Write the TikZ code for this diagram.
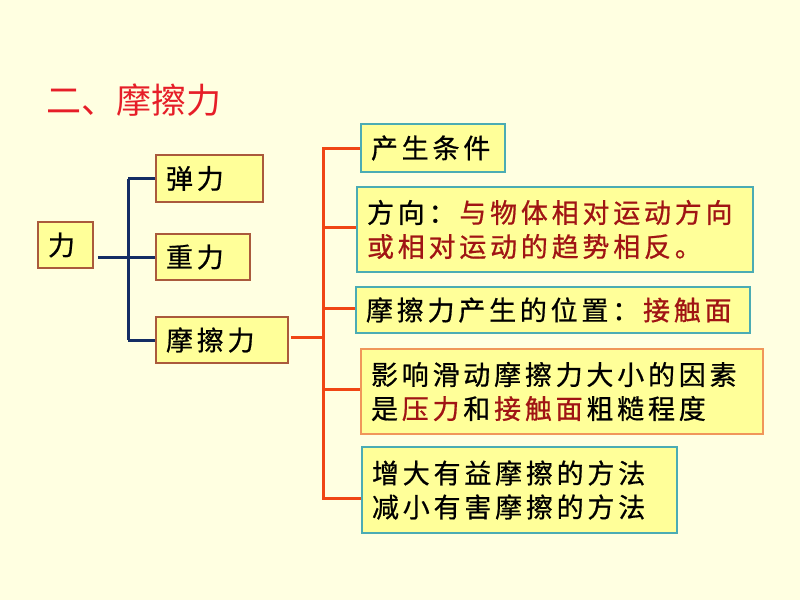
\documentclass[tikz,border=0pt]{standalone}
\usepackage{fontspec}
\usetikzlibrary{calc}
\newfontfamily\cjk[LetterSpace=14,FakeBold=0.7]{Noto Sans CJK SC}
\newfontfamily\cjktitle{Noto Sans CJK SC}
\definecolor{bgc}{RGB}{255,255,225}
\definecolor{boxfill}{RGB}{255,255,153}
\definecolor{brownb}{RGB}{170,90,60}
\definecolor{tealb}{RGB}{75,172,180}
\definecolor{orangeb}{RGB}{240,150,90}
\definecolor{navyl}{RGB}{20,45,100}
\definecolor{redl}{RGB}{240,70,20}
\definecolor{dred}{RGB}{160,20,20}
\definecolor{titler}{RGB}{230,30,40}
\newcommand{\ks}{\kern3.78pt}
\tikzset{
  box/.style={draw, fill=boxfill, line width=1.5pt, inner xsep=10pt, inner ysep=0pt,
    align=left, font=\cjk\fontsize{27}{34}\selectfont},
  lbox/.style={box, draw=brownb},
  rbox/.style={box, draw=tealb},
  obox/.style={box, draw=orangeb},
  bl/.style={draw=navyl, line width=3pt},
  rl/.style={draw=redl, line width=3pt},
}
\begin{document}
\begin{tikzpicture}[x=1pt,y=-1pt]
\fill[bgc] (0,0) rectangle (800,600);
\useasboundingbox (0,0) rectangle (800,600);

\node[anchor=west, text=titler, inner sep=0pt, font=\cjktitle\fontsize{35}{40}\selectfont] (title) at (46,100) {二、摩擦力};

% left boxes
\node[lbox, minimum width=55pt, text width=35pt, minimum height=46pt] (li) at (65.5,245) {力};
\node[lbox, minimum width=107pt, text width=87pt, minimum height=47pt] (tl) at (209.5,178.5) {弹力};
\node[lbox, minimum width=94pt, text width=74pt, minimum height=46pt] (zl) at (203,257) {重力};
\node[lbox, minimum width=132pt, text width=112pt, minimum height=46pt] (mc) at (222,340) {摩擦力};

% right boxes
\node[rbox, minimum width=144pt, text width=124pt, minimum height=48pt] (r1) at (433,148) {产生条件};
\node[rbox, minimum width=396pt, text width=376pt, minimum height=85pt] (r2) at (555,229.5) {方向：\ks\textcolor{dred}{与物体相对运动方向}\\\textcolor{dred}{或相对运动的趋势相反。}};
\node[rbox, minimum width=394pt, text width=374pt, minimum height=46pt] (r3) at (553,310) {摩擦力产生的位置：\ks\textcolor{dred}{接触面}};
\node[obox, minimum width=402pt, text width=382pt, minimum height=85pt] (r4) at (562,391.5) {影响滑动摩擦力大小的因素\\是\ks\textcolor{dred}{压力}\ks 和\ks\textcolor{dred}{接触面}\ks 粗糙程度};
\node[rbox, minimum width=315pt, text width=295pt, minimum height=86pt] (r5) at (519.5,490) {增大有益摩擦的方法\\减小有害摩擦的方法};

% blue connectors
\coordinate (bs) at ($(li.east)+(4,12)$);
\coordinate (bj) at (128,257);
\coordinate (bt) at (bj |- tl.west);
\coordinate (bb) at (bj |- mc.west);
\draw[bl] (bs) -- (bj);
\draw[bl] (bt) -- (bb);
\draw[bl] (bt) -- (tl.west);
\draw[bl] (bj) -- (zl.west);
\draw[bl] (bb) -- (mc.west);

% red connectors
\coordinate (rs) at ($(mc.east)+(2,-3)$);
\coordinate (rj) at (323,337);
\coordinate (rt) at (rj |- r1.west);
\coordinate (rb) at ($(rj |- r5.west)+(0,8)$);
\draw[rl] (rs) -- (rj);
\draw[rl, line cap=rect] (rt) -- (rb);
\draw[rl] (rt) -- (r1.west);
\draw[rl] ($(rj |- r2.west)+(0,-2)$) -- ($(r2.west)+(0,-2)$);
\draw[rl] ($(rj |- r3.west)+(0,-2)$) -- ($(r3.west)+(0,-2)$);
\draw[rl] ($(rj |- r4.west)+(0,-2)$) -- ($(r4.west)+(0,-2)$);
\draw[rl] (rb) -- ($(r5.west)+(0,8)$);
\end{tikzpicture}
\end{document}
